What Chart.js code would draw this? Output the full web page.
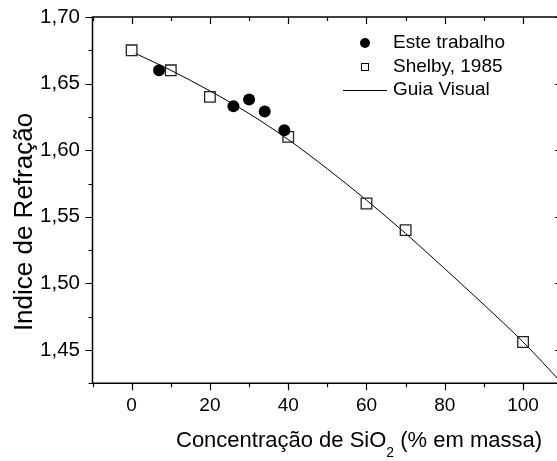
<!DOCTYPE html>
<html>
<head>
<meta charset="utf-8">
<script src="https://cdn.jsdelivr.net/npm/chart.js@4.4.1/dist/chart.umd.min.js"></script>
<style>
  html, body { margin: 0; padding: 0; background: #fff; overflow: hidden; }
  #wrap { width: 571px; height: 461px; position: relative; }
</style>
</head>
<body>
<div id="wrap"><canvas id="grafico"></canvas></div>
<script>
// dados
var esteX = [7, 26, 30, 34, 39];
var esteY = [1.660, 1.633, 1.638, 1.629, 1.615];

var shelbyX = [0, 10, 20, 40, 60, 70, 100];
var shelbyY = [1.675, 1.660, 1.640, 1.610, 1.560, 1.540, 1.456];

var guiaX = [1, 10, 20, 30, 40, 50, 60, 70, 80, 90, 100, 110];
var guiaY = [1.6726, 1.660, 1.6445, 1.6275, 1.608, 1.586, 1.5625, 1.5375, 1.511, 1.484, 1.456, 1.425];

var xMajor = [0, 20, 40, 60, 80, 100];
var xMinor = [-10, 10, 30, 50, 70, 90, 110];
var yMajor = [1.45, 1.50, 1.55, 1.60, 1.65, 1.70];
var yMinor = [1.425, 1.475, 1.525, 1.575, 1.625, 1.675];

var legendas = ['Este trabalho', 'Shelby, 1985', 'Guia Visual'];

var FONTE = "'Liberation Sans', Arial, sans-serif";

function pares(xs, ys) {
  var out = [];
  for (var i = 0; i < xs.length; i++) out.push({x: xs[i], y: ys[i]});
  return out;
}

function ehMaior(lista, v) {
  for (var i = 0; i < lista.length; i++) {
    if (Math.abs(lista[i] - v) < 1e-6) return true;
  }
  return false;
}

////eixos, ticks, titulos e legenda/////
var moldura = {
  id: 'moldura',
  afterDraw: function(chart) {
    var ctx = chart.ctx;
    var a = chart.chartArea;
    var sx = chart.scales.x, sy = chart.scales.y;
    var MAJ = 7, MIN = 4;

    ctx.save();
    ctx.strokeStyle = '#000';
    ctx.lineWidth = 1.5;
    ctx.beginPath();
    ctx.rect(a.left, a.top, a.right - a.left, a.bottom - a.top);
    ctx.stroke();

    ctx.lineWidth = 1.2;
    ctx.beginPath();
    xMajor.concat(xMinor).forEach(function(v) {
      var px = Math.round(sx.getPixelForValue(v)) + 0.5;
      var len = ehMaior(xMajor, v) ? MAJ : MIN;
      ctx.moveTo(px, a.bottom); ctx.lineTo(px, a.bottom + len);
      ctx.moveTo(px, a.top); ctx.lineTo(px, a.top + len);
    });
    yMajor.concat(yMinor).forEach(function(v) {
      var py = Math.round(sy.getPixelForValue(v)) + 0.5;
      var len = ehMaior(yMajor, v) ? MAJ : MIN;
      ctx.moveTo(a.left, py); ctx.lineTo(a.left - len, py);
      ctx.moveTo(a.right, py); ctx.lineTo(a.right - len, py);
    });
    ctx.stroke();

    // titulo do eixo y
    ctx.fillStyle = '#000';
    ctx.font = '26px ' + FONTE;
    ctx.textAlign = 'center';
    ctx.textBaseline = 'alphabetic';
    ctx.translate(32, 222);
    ctx.rotate(-Math.PI / 2);
    ctx.fillText('Indice de Refração', 0, 0);
    ctx.setTransform(1, 0, 0, 1, 0, 0);

    // titulo do eixo x com subscrito
    ctx.textAlign = 'left';
    var x = 176, base = 447;
    var p1 = 'Concentração de SiO', p2 = '2', p3 = ' (% em massa)';
    ctx.font = '22px ' + FONTE;
    ctx.fillText(p1, x, base);
    x += ctx.measureText(p1).width;
    ctx.font = '14px ' + FONTE;
    ctx.fillText(p2, x, base + 10);
    x += ctx.measureText(p2).width;
    ctx.font = '22px ' + FONTE;
    ctx.fillText(p3, x, base);

    // legenda
    ctx.font = '19px ' + FONTE;
    ctx.textBaseline = 'middle';
    var lx = 365, tx = 393, ly = [43, 67, 90];
    ctx.beginPath();
    ctx.arc(lx, ly[0], 5, 0, Math.PI * 2);
    ctx.fill();
    ctx.lineWidth = 1;
    ctx.strokeRect(lx - 3.5, ly[1] - 3.5, 7, 7);
    ctx.beginPath();
    ctx.moveTo(343, ly[2] + 0.5); ctx.lineTo(387, ly[2] + 0.5);
    ctx.stroke();
    for (var i = 0; i < legendas.length; i++) {
      ctx.fillText(legendas[i], tx, ly[i]);
    }
    ctx.restore();
  }
};

function semFolga(scale) {
  scale.paddingTop = 0;
  scale.paddingBottom = 0;
  scale.paddingLeft = 0;
  scale.paddingRight = 0;
}

var ctx = document.getElementById('grafico');

var grafico = new Chart(ctx, {
  type: 'scatter',
  data: {
    datasets: [
      {
        label: legendas[0],
        data: pares(esteX, esteY),
        pointStyle: 'circle',
        pointRadius: 6,
        backgroundColor: '#000',
        borderColor: '#000',
        borderWidth: 0
      },
      {
        label: legendas[1],
        data: pares(shelbyX, shelbyY),
        pointStyle: 'rect',
        pointRadius: 7.5,
        backgroundColor: 'rgba(0,0,0,0)',
        borderColor: '#222',
        borderWidth: 1.3
      },
      {
        label: legendas[2],
        type: 'line',
        data: pares(guiaX, guiaY),
        showLine: true,
        pointRadius: 0,
        borderColor: '#000',
        borderWidth: 1,
        fill: false,
        cubicInterpolationMode: 'monotone'
      }
    ]
  },
  options: {
    responsive: true,
    maintainAspectRatio: false,
    animation: false,
    events: [],
    layout: { padding: { left: 0, top: 17, right: 7.8, bottom: 0 } },
    plugins: {
      legend: { display: false },
      tooltip: { enabled: false }
    },
    scales: {
      x: {
        type: 'linear',
        min: -10,
        max: 110,
        afterBuildTicks: function(scale) {
          scale.ticks = xMajor.map(function(v) { return {value: v}; });
        },
        afterFit: function(scale) { scale.height = 77.7; semFolga(scale); },
        grid: { display: false },
        border: { display: false },
        ticks: {
          color: '#000',
          padding: 3,
          maxRotation: 0,
          autoSkip: false,
          font: { family: FONTE, size: 19 },
          callback: function(v) { return String(v); }
        }
      },
      y: {
        type: 'linear',
        min: 1.425,
        max: 1.70,
        afterBuildTicks: function(scale) {
          scale.ticks = yMajor.map(function(v) { return {value: v}; });
        },
        afterFit: function(scale) { scale.width = 92.5; semFolga(scale); },
        grid: { display: false },
        border: { display: false },
        ticks: {
          color: '#000',
          padding: 4.5,
          autoSkip: false,
          font: { family: FONTE, size: 20.5 },
          callback: function(v) { return v.toFixed(2).replace('.', ','); }
        }
      }
    }
  },
  plugins: [moldura]
});
</script>
</body>
</html>
